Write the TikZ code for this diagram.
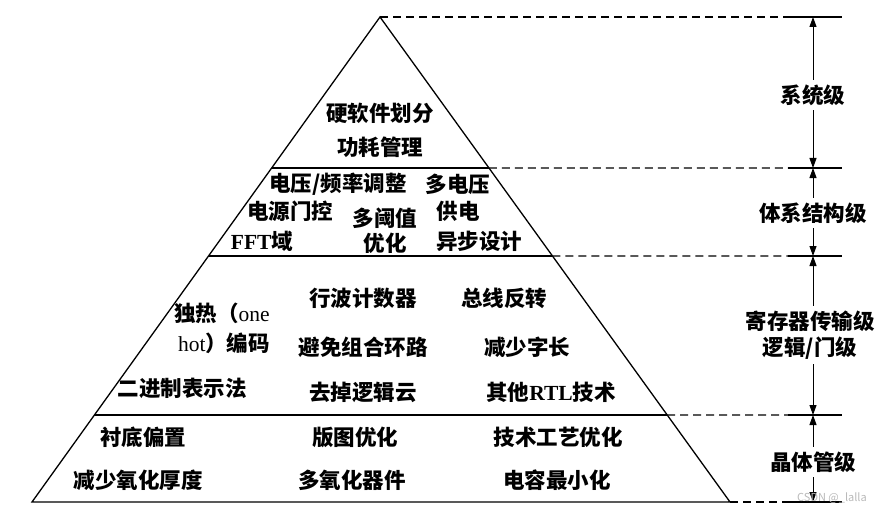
\documentclass[tikz,border=0pt]{standalone}
\usepackage{fontspec}
\setmainfont{Noto Sans CJK SC}
\newfontfamily\lat{Liberation Serif}
\usetikzlibrary{arrows.meta,calc}
\begin{document}
\begin{tikzpicture}[x=1pt,y=-1pt,
  edge/.style={line width=1.3pt},
  ext/.style={line width=1.1pt, dash pattern=on 8pt off 5pt},
  tickline/.style={line width=1.1pt},
  dim/.style={line width=1pt, -{Triangle[width=7pt,length=10pt]}},
  txt/.style={font=\fontsize{21.5}{26}\selectfont\bfseries, inner sep=0pt, align=center},
  lev/.style={font=\fontsize{21.5}{26}\selectfont\bfseries, inner sep=0pt, outer sep=5pt, align=center, fill=white}]
\useasboundingbox (0,0) rectangle (882,513);
% pyramid
\coordinate (A) at (380,17);
\coordinate (BL) at (32,502);
\coordinate (BR) at (730,502);
\coordinate (L1l) at ($(A)!0.3113!(BL)$);
\coordinate (L1r) at ($(A)!0.3113!(BR)$);
\coordinate (L2l) at ($(A)!0.4928!(BL)$);
\coordinate (L2r) at ($(A)!0.4928!(BR)$);
\coordinate (L3l) at ($(A)!0.8206!(BL)$);
\coordinate (L3r) at ($(A)!0.8206!(BR)$);
\draw[edge] (BL) -- (A) -- (BR) -- cycle;
\draw[edge] (L1l) -- (L1r);
\draw[edge] (L2l) -- (L2r);
\draw[edge] (L3l) -- (L3r);
% extension lines
\foreach \n/\y in {0/17,1/168,2/256,3/415,4/502}{
  \coordinate (T\n) at (788,\y);
  \coordinate (E\n) at (842,\y);
  \coordinate (V\n) at (813,\y);
}
\draw[ext] (A) -- (T0);
\draw[ext] (L1r) -- (T1);
\draw[ext] (L2r) -- (T2);
\draw[ext] (L3r) -- (T3);
\draw[ext] (BR) -- (T4);
\foreach \n in {0,...,4}{ \draw[tickline] (T\n) -- (E\n); }
% level labels
\node[lev] (sys) at (813,95) {系统级};
\node[lev] (arch) at (813,213) {体系结构级};
\node[lev] (rtl) at (810,335) {寄存器传输级\\逻辑/门级};
\node[lev] (tr) at (813,462) {晶体管级};
\draw[dim] (sys) -- (V0);
\draw[dim] (sys) -- (V1);
\draw[dim] (arch) -- (V1);
\draw[dim] (arch) -- (V2);
\draw[dim] (rtl.north -| V2) -- (V2);
\draw[dim] (rtl.south -| V3) -- (V3);
\draw[dim] (tr) -- (V3);
\draw[dim] (tr) -- (V4);
% system level
\node[txt] (s1) at (380,113) {硬软件划分};
\node[txt] (s2) at (380,147) {功耗管理};
% architecture level
\node[txt] (a1) at (338,184) {电压/频率调整};
\node[txt] (a2) at (458,184) {多电压};
\node[txt] (a3) at (290,211) {电源门控};
\node[txt] (a4) at (385,218) {多阈值};
\node[txt] (a5) at (458,211) {供电};
\node[txt] (a6) at (262,241) {{\lat FFT}域};
\node[txt] (a7) at (385,243) {优化};
\node[txt] (a8) at (479,241) {异步设计};
% RTL level
\node[txt] (r1) at (222,313) {独热（{\lat\mdseries one}};
\node[txt] (r2) at (224,343) {{\lat\mdseries hot}）编码};
\node[txt] (r3) at (363,298) {行波计数器};
\node[txt] (r4) at (504,298) {总线反转};
\node[txt] (r5) at (363,347) {避免组合环路};
\node[txt] (r6) at (527,347) {减少字长};
\node[txt] (r7) at (182,388) {二进制表示法};
\node[txt] (r8) at (363,392) {去掉逻辑云};
\node[txt] (r9) at (551,392) {其他{\lat RTL}技术};
% transistor level
\node[txt] (x1) at (143,437) {衬底偏置};
\node[txt] (x2) at (355,437) {版图优化};
\node[txt] (x3) at (558,437) {技术工艺优化};
\node[txt] (x4) at (138,480) {减少氧化厚度};
\node[txt] (x5) at (352,480) {多氧化器件};
\node[txt] (x6) at (557,480) {电容最小化};
% watermark
\node[font=\fontsize{11}{11}\selectfont, text=gray!55, inner sep=0pt] (wm) at (832,498) {CSDN @\_lalla};
\end{tikzpicture}
\end{document}
